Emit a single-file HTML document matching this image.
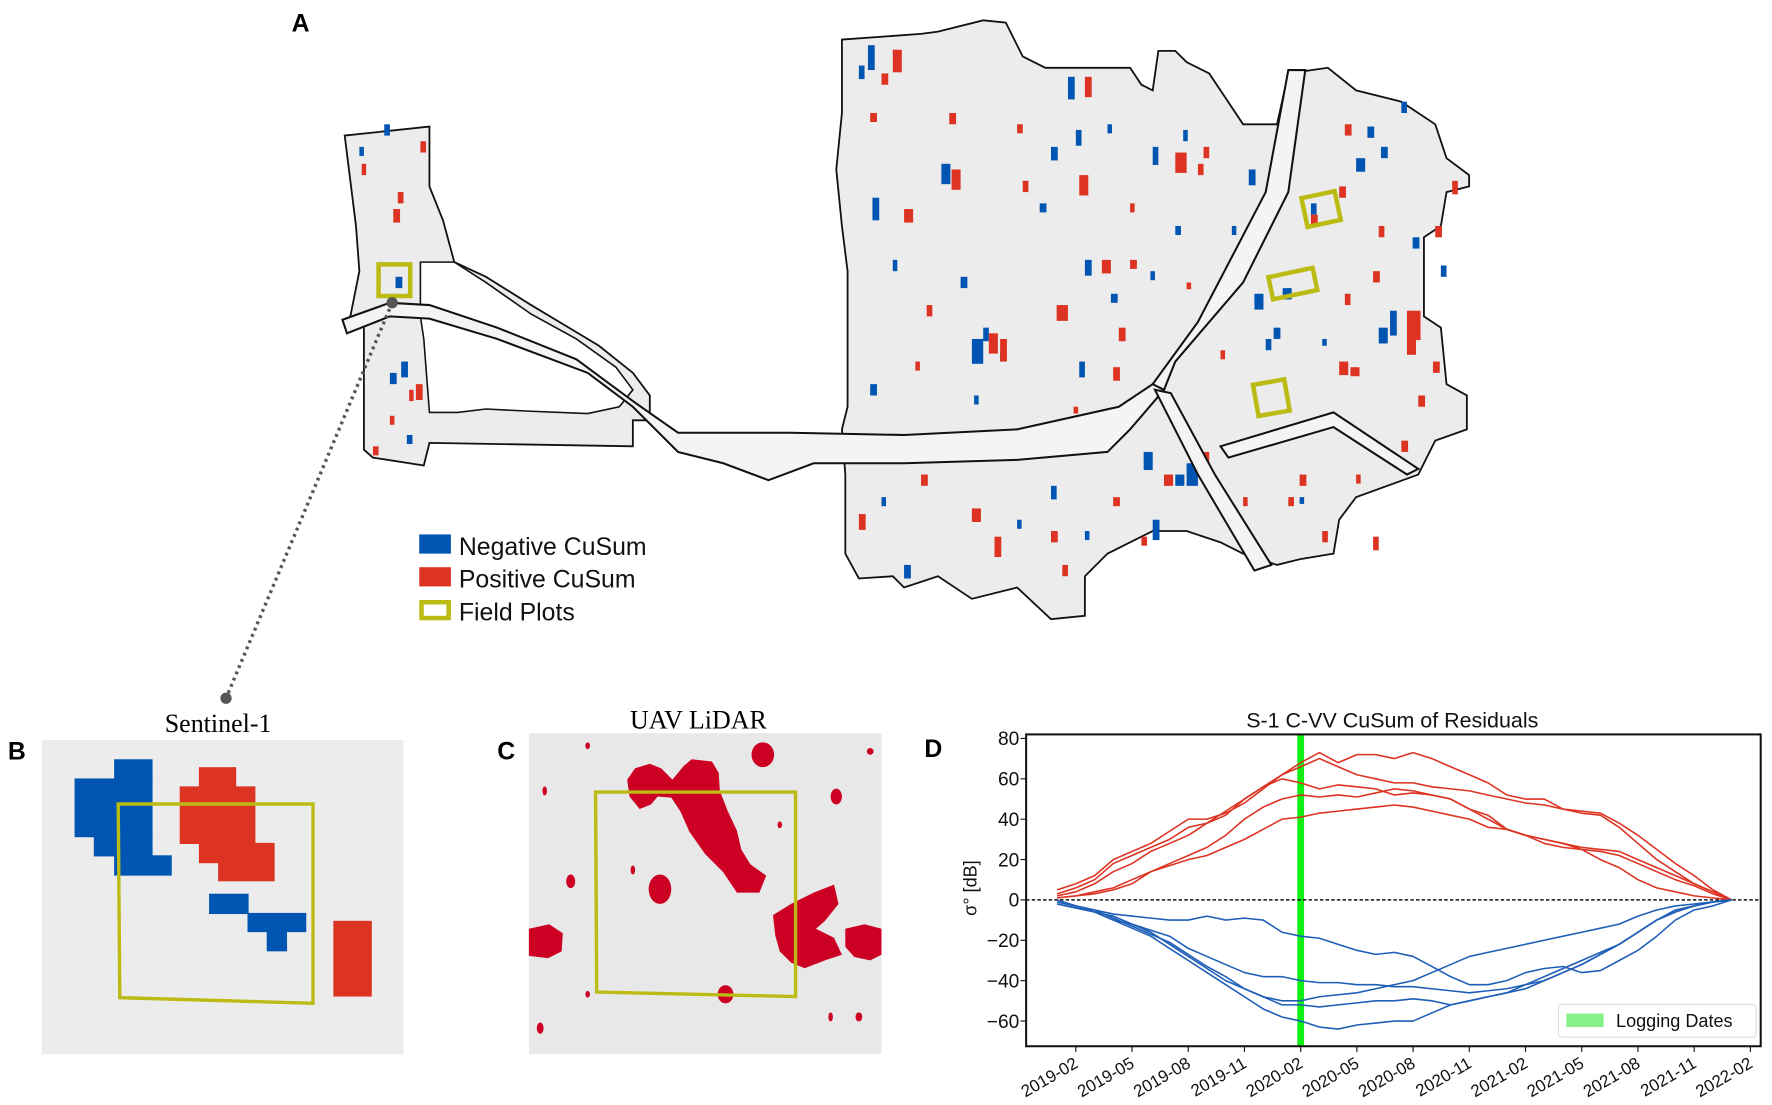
<!DOCTYPE html>
<html><head><meta charset="utf-8"><style>
html,body{margin:0;padding:0;background:#fff;width:1772px;height:1105px;overflow:hidden}
svg{display:block}
text{font-family:"Liberation Sans","DejaVu Sans",sans-serif}
</style></head><body>
<svg id="fig" width="1772" height="1105" viewBox="0 0 1568 978" preserveAspectRatio="none" xmlns="http://www.w3.org/2000/svg">
<g id="panelA">
<text x="258" y="28" font-size="22" font-weight="bold">A</text>
<polygon fill="#ececec" stroke="#111" stroke-width="1.6" points="305,120 380,112 380,165 392,195 402,232 430,245 470,270 500,288 530,306 560,330 575,350 575,372 560,372 560,395 380,392 375,412 330,405 322,398 322,290 310,280 318,240 315,200 310,160"/>
<polygon fill="#fff" stroke="#111" stroke-width="1.4" points="372,232 402,232 430,250 470,278 510,300 545,325 560,345 548,360 520,366 470,364 430,362 405,365 380,365 375,300 372,280"/>
<polygon fill="#ececec" stroke="#111" stroke-width="1.6" points="745,35 815,30 830,28 870,18 890,20 905,50 925,60 1000,60 1010,75 1020,80 1025,45 1040,45 1050,55 1070,65 1080,80 1100,110 1130,110 1140,65 1175,60 1200,80 1240,90 1270,110 1280,140 1300,155 1300,165 1280,170 1275,200 1260,210 1260,280 1275,290 1280,340 1298,350 1298,380 1270,390 1255,420 1200,440 1185,460 1180,490 1150,495 1130,500 1100,490 1080,480 1050,470 1020,470 1000,480 980,490 960,510 960,545 930,548 900,520 860,530 830,510 800,520 790,510 760,512 748,490 748,420 745,380 750,360 750,240 745,200 740,150 745,100"/>
<g id="speckles"></g>
<polygon fill="#f4f4f4" stroke="#111" stroke-width="1.8" points="303,283 345,268 380,270 440,290 510,318 560,355 600,383 700,383 800,385 900,380 990,360 1020,340 1030,345 1000,380 980,400 900,407 800,410 720,410 680,425 640,410 600,400 560,360 520,330 440,300 380,282 345,280 307,295"/>
<polygon fill="#f4f4f4" stroke="#111" stroke-width="1.8" points="1020,340 1060,285 1120,170 1140,62 1155,62 1140,170 1100,250 1040,320 1030,345"/>
<polygon fill="#f4f4f4" stroke="#111" stroke-width="1.8" points="1022,345 1036,348 1075,420 1125,500 1110,505 1060,420"/>
<polygon fill="#f4f4f4" stroke="#111" stroke-width="1.8" points="1080,395 1180,365 1255,415 1245,420 1180,378 1087,405"/>
<g fill="none" stroke="#bbbb14" stroke-width="4">
<rect x="335" y="234" width="28" height="28"/>
<rect x="1154" y="172" width="30" height="26" transform="rotate(-12 1169 185)"/>
<rect x="1124" y="241" width="40" height="20" transform="rotate(-12 1144 251)"/>
<rect x="1111" y="338" width="28" height="28" transform="rotate(-10 1125 352)"/>
</g>
<line x1="347" y1="268" x2="200" y2="618" stroke="#555" stroke-width="3" stroke-dasharray="2.5,3.5"/>
<circle cx="347" cy="268" r="5" fill="#555"/>
<circle cx="200" cy="618" r="5" fill="#555"/>
<g>
<rect x="371" y="473" width="28" height="17" fill="#0055b3"/>
<text x="406" y="491" font-size="22" fill="#111">Negative CuSum</text>
<rect x="371" y="502" width="28" height="17" fill="#dd3322"/>
<text x="406" y="520" font-size="22" fill="#111">Positive CuSum</text>
<rect x="373" y="533" width="24" height="14" fill="none" stroke="#bbbb14" stroke-width="4"/>
<text x="406" y="549" font-size="22" fill="#111">Field Plots</text>
</g>
</g>

<g id="panelB">
<text x="7" y="672" font-size="22" font-weight="bold">B</text>
<text x="193" y="648" font-size="23" text-anchor="middle" style="font-family:'Liberation Serif',serif">Sentinel-1</text>
<rect x="37" y="655" width="320" height="278" fill="#ececec"/>
<g fill="#0055b3">
<rect x="101" y="672" width="34" height="18"/><rect x="66" y="689" width="69" height="52"/><rect x="83" y="740" width="52" height="18"/><rect x="101" y="757" width="51" height="18"/>
<rect x="185" y="791" width="35" height="18"/><rect x="219" y="808" width="52" height="17"/><rect x="236" y="824" width="18" height="18"/>
</g>
<g fill="#dd3322">
<rect x="176" y="679" width="33" height="18"/><rect x="159" y="696" width="67" height="51"/><rect x="176" y="746" width="67" height="18"/><rect x="193" y="763" width="50" height="17"/>
<rect x="295" y="815" width="34" height="67"/>
</g>
<polygon points="104.6,711.6 277,711.6 277,888 106,883" fill="none" stroke="#bbbb14" stroke-width="3"/>
</g>

<g id="panelC">
<text x="440" y="672" font-size="22" font-weight="bold">C</text>
<text x="618" y="645" font-size="23" text-anchor="middle" style="font-family:'Liberation Serif',serif">UAV LiDAR</text>
<rect x="468" y="649" width="312" height="284" fill="#e8e8e8"/>
<g fill="#cc0022">
<path d="M555,690 L562,680 575,676 585,680 595,690 605,678 612,672 630,674 636,684 637,700 644,718 652,735 656,752 664,765 678,775 672,790 652,790 640,772 624,756 610,736 602,718 594,706 582,705 576,712 566,716 557,705Z"/>
<ellipse cx="584" cy="787" rx="10" ry="13"/>
<path d="M684,810 L700,800 720,790 738,783 742,800 730,815 722,822 738,830 745,845 730,850 712,857 700,852 690,842 686,828Z"/>
<path d="M748,822 L765,818 780,822 780,845 770,850 756,847 748,838Z"/>
<path d="M468,822 L486,818 498,826 497,842 485,848 468,846Z"/>
<ellipse cx="675" cy="668" rx="10" ry="11"/>
<ellipse cx="642" cy="880" rx="7" ry="8"/>
<ellipse cx="740" cy="705" rx="5" ry="7"/>
<ellipse cx="505" cy="780" rx="4" ry="6"/>
<ellipse cx="760" cy="900" rx="3" ry="4"/><ellipse cx="478" cy="910" rx="3" ry="5"/><ellipse cx="560" cy="770" rx="2" ry="4"/>
<ellipse cx="482" cy="700" rx="2" ry="4"/><ellipse cx="520" cy="660" rx="2" ry="3"/><ellipse cx="770" cy="665" rx="3" ry="3"/>
<ellipse cx="520" cy="880" rx="2" ry="3"/><ellipse cx="735" cy="900" rx="2" ry="4"/><ellipse cx="690" cy="730" rx="2" ry="3"/>
</g>
<polygon points="527,701 704,701 704,882 528,878" fill="none" stroke="#bbbb14" stroke-width="3"/>
</g>

<g id="panelD">
<text x="818" y="670" font-size="22" font-weight="bold">D</text>
<text x="1232" y="644" font-size="19" text-anchor="middle" fill="#111">S-1 C-VV CuSum of Residuals</text>
<g id="dChart"></g>
</g>
</svg>
<script>
// ---- Panel D data ----
const months = ["2019-01","2019-02","2019-03","2019-04","2019-05","2019-06","2019-07","2019-08","2019-09","2019-10","2019-11","2019-12","2020-01","2020-02","2020-03","2020-04","2020-05","2020-06","2020-07","2020-08","2020-09","2020-10","2020-11","2020-12","2021-01","2021-02","2021-03","2021-04","2021-05","2021-06","2021-07","2021-08","2021-09","2021-10","2021-11","2021-12","2022-01"];
const xTickLabels = ["2019-02","2019-05","2019-08","2019-11","2020-02","2020-05","2020-08","2020-11","2021-02","2021-05","2021-08","2021-11","2022-02"];
const yTickValues = [80,60,40,20,0,-20,-40,-60];
const loggingDate = "2020-02";
const red1 = [5,8,12,20,24,28,34,40,40,43,48,55,62,68,73,68,72,72,70,73,70,66,62,58,52,50,50,45,44,43,38,32,25,18,12,5,0];
const red2 = [3,6,10,18,22,26,30,36,38,42,50,56,62,66,70,66,62,60,58,58,56,55,54,52,50,48,47,45,43,42,36,28,20,14,8,4,0];
const red3 = [2,4,8,14,18,24,28,32,38,44,50,56,60,58,55,57,56,55,52,53,52,50,45,40,35,32,30,28,26,25,24,20,16,12,8,4,0];
const red4 = [1,2,4,6,10,14,18,22,26,32,40,46,50,52,51,52,51,53,55,54,52,50,45,42,35,32,28,26,25,24,22,18,14,10,7,3,0];
const red5 = [1,2,3,5,8,14,17,20,22,26,30,35,40,41,43,44,45,46,47,46,44,42,40,36,35,32,30,28,25,20,16,10,6,4,2,1,0];
const blue1 = [-1,-3,-5,-7,-8,-9,-10,-10,-8,-10,-9,-10,-16,-18,-19,-22,-25,-27,-26,-28,-33,-38,-42,-42,-40,-36,-34,-33,-36,-35,-30,-25,-18,-10,-5,-3,0];
const blue2 = [-2,-4,-6,-10,-12,-15,-18,-24,-28,-32,-36,-38,-38,-40,-41,-41,-42,-42,-43,-43,-44,-45,-46,-45,-44,-42,-38,-34,-30,-26,-22,-16,-10,-5,-3,-1,0];
const blue3 = [0,-3,-6,-8,-12,-16,-22,-28,-34,-40,-44,-48,-50,-50,-48,-47,-46,-44,-42,-40,-36,-32,-28,-26,-24,-22,-20,-18,-16,-14,-12,-8,-5,-3,-2,-1,0];
const blue4 = [-1,-3,-5,-9,-13,-17,-21,-27,-33,-38,-44,-48,-52,-52,-53,-52,-51,-50,-50,-49,-50,-52,-50,-48,-46,-42,-40,-36,-32,-27,-22,-16,-10,-6,-3,-1,0];
const blue5 = [-2,-4,-6,-10,-14,-18,-24,-30,-36,-42,-48,-54,-58,-60,-63,-64,-62,-61,-60,-60,-56,-52,-50,-48,-46,-44,-40,-36,-32,-27,-22,-16,-10,-6,-3,-1,0];

// map speckles [x,y,w,h] (hand placed)
const blueSpecks = [[768,40,6,22],[760,58,5,12],[833,145,8,18],[772,175,6,20],[850,245,6,10],[945,68,6,20],[952,115,5,14],[930,130,6,12],[1020,130,5,16],[1047,115,4,10],[1105,150,6,14],[1220,290,8,14],[1135,255,8,10],[1120,300,5,10],[1050,410,10,20],[1012,400,8,16],[1020,460,6,18],[930,430,5,12],[800,500,6,12],[860,300,10,22],[870,290,5,12],[885,310,5,10],[955,320,5,14],[1200,140,8,12],[1222,130,6,10],[1250,210,6,10],[1275,235,5,10],[1160,180,5,10],[340,110,5,10],[318,130,4,8],[350,245,6,10],[355,320,6,14],[345,330,6,10],[360,385,5,8],[960,230,6,14],[920,180,6,8],[1018,240,4,8],[1040,200,5,8],[862,350,4,8],[983,260,6,8],[1110,260,8,14],[1127,290,6,10],[770,340,6,10],[1240,90,5,10],[1210,112,6,10],[1230,275,6,22],[1040,420,8,10],[790,230,4,10],[980,110,4,8],[1090,200,4,8],[1170,300,4,6],[900,460,4,8],[780,440,4,8],[960,470,4,8],[1150,440,4,6]];
const redSpecks = [[790,44,8,20],[780,65,6,10],[842,150,8,18],[800,185,8,12],[875,295,8,18],[885,300,6,20],[960,68,6,18],[955,155,8,18],[1040,135,10,18],[1060,145,5,10],[1065,130,5,10],[1160,190,6,10],[1185,165,6,10],[1245,275,12,26],[1245,300,8,14],[1185,320,8,12],[1195,325,8,8],[1060,400,10,22],[1080,440,6,10],[1030,420,8,10],[860,450,8,12],[880,475,6,18],[935,270,10,14],[990,290,6,12],[985,325,6,12],[975,230,8,12],[1240,390,6,10],[1255,350,6,10],[1270,200,6,10],[1285,160,5,12],[1215,240,6,10],[1220,200,5,10],[1190,260,5,10],[348,185,6,12],[352,170,5,10],[320,145,4,10],[372,125,5,10],[368,340,6,14],[362,345,4,10],[345,368,4,8],[330,395,5,8],[760,455,6,14],[765,395,5,10],[815,420,6,10],[930,470,6,10],[940,500,5,10],[1000,230,6,8],[905,160,5,10],[900,110,5,8],[770,100,6,8],[820,270,5,10],[1215,475,5,12],[1150,420,6,10],[1140,440,5,8],[1010,475,5,8],[985,440,6,8],[1170,470,5,10],[1268,320,6,10],[1190,110,6,10],[840,100,6,10],[810,320,4,8],[1000,180,4,8],[1080,310,4,8],[1130,130,4,8],[870,400,4,8],[1100,440,4,8],[1200,420,4,8],[950,360,4,6],[1050,250,4,6]];

const NS = "http://www.w3.org/2000/svg";
function mk(tag, attrs, parent){const e=document.createElementNS(NS,tag);for(const k in attrs)e.setAttribute(k,attrs[k]);parent.appendChild(e);return e;}

const sp = document.getElementById('speckles');
blueSpecks.forEach(s=>{const r=mk('rect',{x:s[0],y:s[1],width:s[2],height:s[3],fill:'#0055b3'},sp);

});
redSpecks.forEach(s=>{const r=mk('rect',{x:s[0],y:s[1],width:s[2],height:s[3],fill:'#dd3322'},sp);

});

// axes geometry
const L=908, R=1558, T=650, B=926;
const yMin=-72.5, yMax=82;
function monthIndex(s){const p=s.split('-');return (+p[0]-2019)*12+(+p[1]-1);}
const x0=935.4, pxPerMonth=16.58;
function xs(s){return x0+monthIndex(s)*pxPerMonth;}
function ys(v){return B-(v-yMin)/(yMax-yMin)*(B-T);}

const g=document.getElementById('dChart');
const band=mk('rect',{x:xs(loggingDate)-3,y:T,width:6,height:B-T,fill:'#11ee11'},g);


const zl=mk('line',{x1:L,x2:R,y1:ys(0),y2:ys(0),stroke:'#111','stroke-width':1.3,'stroke-dasharray':'3,2'},g);



function series(arr,color,name){
  const pts=arr.map((v,i)=>xs(months[i]).toFixed(1)+','+ys(v).toFixed(1)).join(' ');
  const p=mk('polyline',{points:pts,fill:'none',stroke:color,'stroke-width':1.4,'stroke-linejoin':'round'},g);
  
  
}
[red1,red2,red3,red4,red5].forEach((a,i)=>series(a,'#dd3322','positive-cusum-line-'+(i+1)));
[blue1,blue2,blue3,blue4,blue5].forEach((a,i)=>series(a,'#1f5fb8','negative-cusum-line-'+(i+1)));

const frame=mk('rect',{x:L,y:T,width:R-L,height:B-T,fill:'none',stroke:'#111','stroke-width':1.8},g);



yTickValues.forEach(v=>{
  const t=mk('line',{x1:L-5,x2:L,y1:ys(v),y2:ys(v),stroke:'#111','stroke-width':1},g);
  
  
  const lb=mk('text',{x:L-6,y:ys(v)+6,'font-size':17,'text-anchor':'end',fill:'#111'},g);
  lb.textContent=v<0?'\u2212'+(-v):String(v);
  
  
});
xTickLabels.forEach(s=>{
  const x=xs(s);
  const t=mk('line',{x1:x,x2:x,y1:B,y2:B+5,stroke:'#111','stroke-width':1},g);
  
  
  const lb=mk('text',{x:x+3,y:B+18,'font-size':15,'text-anchor':'end',fill:'#111',transform:'rotate(-30 '+(x+3)+' '+(B+18)+')'},g);
  lb.textContent=s;
  
  
});
const yl=mk('text',{x:0,y:0,'font-size':16,'text-anchor':'middle',fill:'#111',transform:'translate(864 786) rotate(-90)'},g);
yl.textContent='\u03c3\u00b0 [dB]';



const lg=mk('rect',{x:1379,y:889,width:175,height:29,fill:'#fff',stroke:'#ddd','stroke-width':1,rx:3},g);


const sw=mk('rect',{x:1386,y:897,width:33,height:12,fill:'#88f088'},g);


const lt=mk('text',{x:1430,y:909,'font-size':16,fill:'#111'},g);
lt.textContent='Logging Dates';


</script>
</body></html>
